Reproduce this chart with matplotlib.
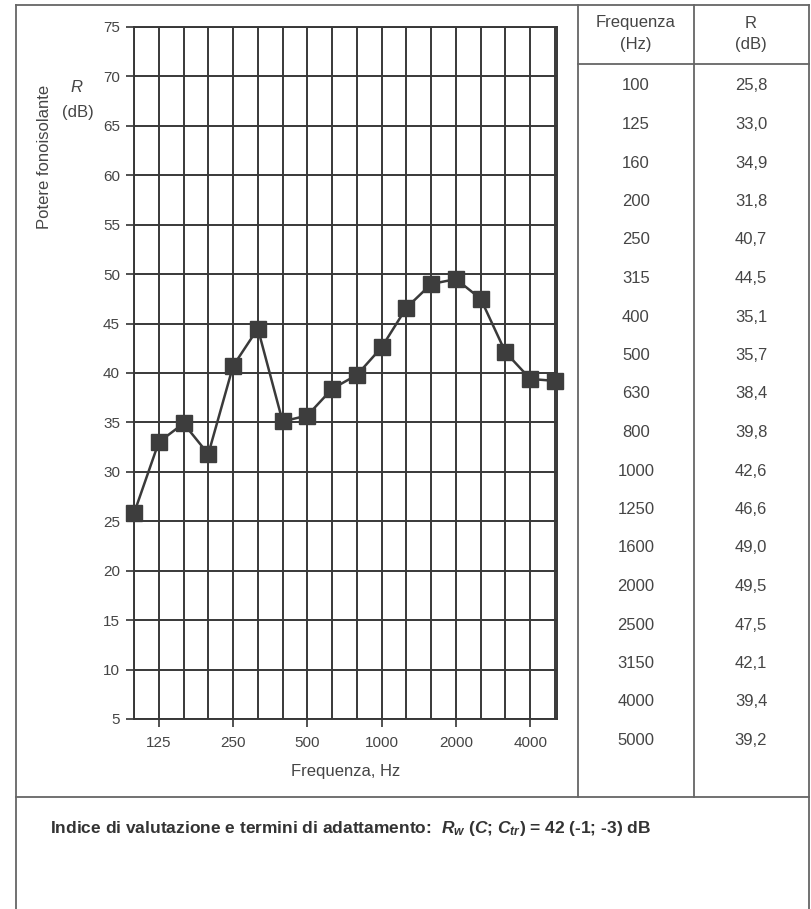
import matplotlib
matplotlib.use("Agg")
import matplotlib.pyplot as plt
from matplotlib.lines import Line2D

plt.rcParams['font.family'] = ['Liberation Sans', 'DejaVu Sans']
plt.rcParams['mathtext.fontset'] = 'custom'
plt.rcParams['mathtext.it'] = 'Liberation Sans:italic:bold'
plt.rcParams['mathtext.rm'] = 'Liberation Sans:bold'

# third-octave bands and measured sound reduction index
freqs = ["100", "125", "160", "200", "250", "315", "400", "500", "630",
         "800", "1000", "1250", "1600", "2000", "2500", "3150", "4000", "5000"]
R_db = [25.8, 33.0, 34.9, 31.8, 40.7, 44.5, 35.1, 35.7, 38.4,
        39.8, 42.6, 46.6, 49.0, 49.5, 47.5, 42.1, 39.4, 39.2]
R_txt = ["25,8", "33,0", "34,9", "31,8", "40,7", "44,5", "35,1", "35,7", "38,4",
         "39,8", "42,6", "46,6", "49,0", "49,5", "47,5", "42,1", "39,4", "39,2"]
xlabels = ["125", "250", "500", "1000", "2000", "4000"]
yticks = list(range(5, 80, 5))

W, H = 811, 909
fig = plt.figure(figsize=(W / 100, H / 100), dpi=100)
txt = '#454545'
border = '#666666'

def fx(px):
    return px / W

def fy(py):
    return 1 - py / H

def hline(y, x0, x1, lw=1.3):
    fig.add_artist(Line2D([fx(x0), fx(x1)], [fy(y), fy(y)], color=border, lw=lw,
                          transform=fig.transFigure))

def vline(x, y0, y1, lw=1.3):
    fig.add_artist(Line2D([fx(x), fx(x)], [fy(y0), fy(y1)], color=border, lw=lw,
                          transform=fig.transFigure))

# page frame and table rules
hline(5, 16, 809)
hline(797, 16, 809)
hline(64, 578, 809)
vline(16, 5, 909)
vline(809, 5, 909)
vline(578, 5, 797)
vline(694, 5, 797)

# chart
ax = fig.add_axes([fx(134), fy(719), fx(557) - fx(134), fy(27) - fy(719)])
pos = list(range(len(freqs)))
ax.set_xlim(0, 17.08)
ax.set_ylim(5, 75)
ax.set_xticks(pos, minor=True)
ax.set_xticks([freqs.index(f) for f in xlabels])
ax.set_xticklabels(xlabels)
ax.set_yticks(yticks)
ax.tick_params(which='minor', length=0)
ax.tick_params(which='major', length=6, width=1.2, color='#333333',
               labelsize=11, labelcolor=txt, pad=4)
ax.tick_params(axis='x', pad=6)
ax.grid(True, which='both', axis='x', color='#383838', lw=1.4)
ax.grid(True, which='major', axis='y', color='#383838', lw=1.4)
ax.set_axisbelow(True)
for s in ax.spines.values():
    s.set_color('#383838')
    s.set_linewidth(1.4)

ax.plot(pos, R_db, '-s', color='#3a3a3a', lw=1.8, markersize=11,
        markerfacecolor='#3d3d3d', markeredgecolor='#3d3d3d', clip_on=False, zorder=5)

ax.set_xlabel("Frequenza, Hz", fontsize=12, color=txt, labelpad=10)
fig.text(fx(45), fy(157), "Potere fonoisolante", rotation=90, ha='center', va='center',
         fontsize=12, color=txt)
fig.text(fx(76), fy(88), "R", style='italic', ha='center', va='center', fontsize=12, color=txt)
fig.text(fx(78), fy(113), "(dB)", ha='center', va='center', fontsize=12, color=txt)

# table
col1, col2 = 636, 751
fig.text(fx(col1), fy(23), "Frequenza", ha='center', va='center', fontsize=12, color=txt)
fig.text(fx(col1), fy(45), "(Hz)", ha='center', va='center', fontsize=12, color=txt)
fig.text(fx(col2), fy(23), "R", ha='center', va='center', fontsize=12, color=txt)
fig.text(fx(col2), fy(45), "(dB)", ha='center', va='center', fontsize=12, color=txt)
for i, (f, r) in enumerate(zip(freqs, R_txt)):
    y = 86 + i * 38.5
    fig.text(fx(col1), fy(y), f, ha='center', va='center', fontsize=12, color=txt)
    fig.text(fx(col2), fy(y), r, ha='center', va='center', fontsize=12, color=txt)

fig.text(fx(50), fy(828),
         r"Indice di valutazione e termini di adattamento:  $R_w$ ($C$; $C_{tr}$) = 42 (-1; -3) dB",
         ha='left', va='center', fontsize=12.5, fontweight='bold', color='#333333')

fig.savefig("out.png", dpi=100)
